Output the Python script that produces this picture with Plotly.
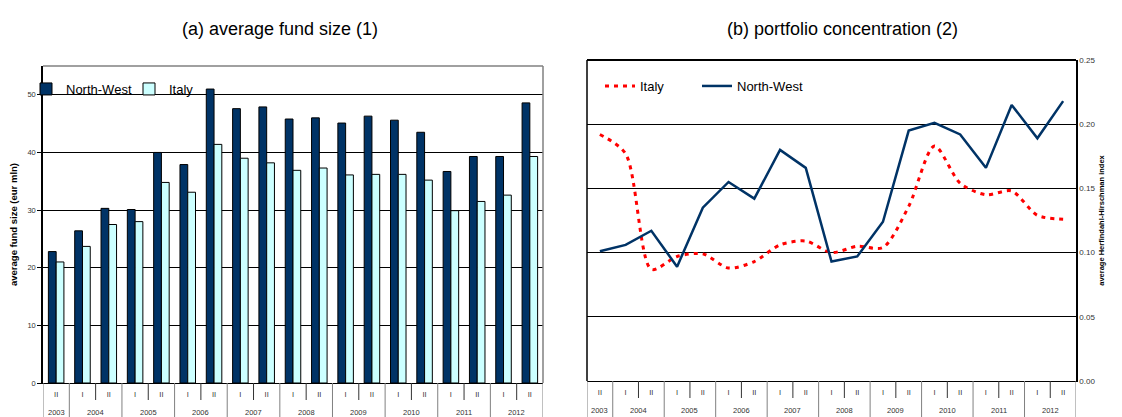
import plotly.graph_objects as go

# categories: half-years 2003 II .. 2012 II
years = ['2003'] + [str(y) for y in range(2004, 2013) for _ in (0, 1)]
halves = ['II'] + ['I', 'II'] * 9

# (a) average fund size, eur mln
size_nw = [22.8, 26.4, 30.3, 30.1, 40.0, 37.9, 51.0, 47.6, 47.9, 45.8,
           46.0, 45.1, 46.3, 45.6, 43.5, 36.7, 39.3, 39.3, 48.6]
size_it = [21.0, 23.7, 27.5, 28.0, 34.8, 33.1, 41.4, 39.0, 38.2, 36.9,
           37.3, 36.1, 36.2, 36.2, 35.2, 29.9, 31.5, 32.6, 39.3]

# (b) average Herfindahl-Hirschman index
hhi_nw = [0.101, 0.106, 0.117, 0.089, 0.135, 0.155, 0.142, 0.180, 0.166, 0.093,
          0.097, 0.124, 0.195, 0.201, 0.192, 0.166, 0.215, 0.189, 0.218]
hhi_it = [0.192, 0.177, 0.087, 0.097, 0.099, 0.088, 0.093, 0.106, 0.109, 0.100,
          0.105, 0.104, 0.136, 0.183, 0.154, 0.145, 0.148, 0.129, 0.126]

# page is drawn with the default 8px body margin, so work in page pixels
OFF = 8
W, H = 1122 - OFF, 417 - OFF
NAVY = '#003366'
CYAN = '#ccffff'


def px_x(x):
    return (x - OFF) / W


def px_y(y):
    return 1 - (y - OFF) / H


n = len(halves)
idx = list(range(n))
# boundaries between half-years: inside a year (short) and between years (long)
year_bounds = [-0.5] + [i - 0.5 for i in range(1, n) if years[i] != years[i - 1]] + [n - 0.5]
inner_bounds = [i - 0.5 for i in range(1, n) if years[i] == years[i - 1]]
year_labels = []
year_centers = []
for y in dict.fromkeys(years):
    pos = [i for i in idx if years[i] == y]
    year_labels.append(y)
    year_centers.append(sum(pos) / len(pos))

tickfont = dict(family='Liberation Sans, Arial', size=7.5, color='#333333')


def half_axis(domain, anchor):
    return dict(domain=domain, range=[-0.5, n - 0.5], anchor=anchor, showline=True,
                linecolor='black', linewidth=1, tickmode='array', tickvals=idx,
                ticktext=halves, ticks='', tickfont=tickfont, showgrid=False,
                zeroline=False, automargin=False, ticklabelstandoff=4)


def category_frame(xref, axis_y):
    # dividers under the category axis + year labels on the second row
    for b in inner_bounds:
        fig.add_shape(type='line', xref=xref, yref='paper', x0=b, x1=b,
                      y0=px_y(axis_y), y1=px_y(axis_y + 17),
                      line=dict(color='#333333', width=1))
    for b in year_bounds:
        fig.add_shape(type='line', xref=xref, yref='paper', x0=b, x1=b,
                      y0=px_y(axis_y), y1=px_y(417),
                      line=dict(color='#808080', width=1))
    for c, lab in zip(year_centers, year_labels):
        fig.add_annotation(text=lab, x=c, y=px_y(axis_y + 29), xref=xref, yref='paper',
                           showarrow=False, xanchor='center', yanchor='middle',
                           font=tickfont)


fig = go.Figure()

fig.add_trace(go.Bar(x=idx, y=size_nw, name='North-West',
                     marker=dict(color=NAVY, line=dict(color='black', width=1)),
                     xaxis='x', yaxis='y', legend='legend'))
fig.add_trace(go.Bar(x=idx, y=size_it, name='Italy',
                     marker=dict(color=CYAN, line=dict(color='black', width=1)),
                     xaxis='x', yaxis='y', legend='legend'))

fig.add_trace(go.Scatter(x=idx, y=hhi_it, name='Italy', mode='lines',
                         line=dict(color='#ff0000', width=3, dash='4px,5px',
                                   shape='spline', smoothing=0.8),
                         xaxis='x2', yaxis='y2', legend='legend2'))
fig.add_trace(go.Scatter(x=idx, y=hhi_nw, name='North-West', mode='lines',
                         line=dict(color=NAVY, width=2.5),
                         xaxis='x2', yaxis='y2', legend='legend3'))

legend_common = dict(xanchor='left', yanchor='top', orientation='h',
                     font=dict(size=13, color='black'), bgcolor='rgba(0,0,0,0)',
                     itemwidth=30)

fig.update_layout(
    width=W, height=H,
    margin=dict(l=0, r=0, t=0, b=0),
    paper_bgcolor='white', plot_bgcolor='white',
    font=dict(family='Liberation Sans, Arial', color='black'),
    barmode='group', bargap=0.41, bargroupgap=0,
    xaxis=half_axis([px_x(43), px_x(543)], 'y'),
    yaxis=dict(domain=[px_y(383), px_y(66)], anchor='x', range=[0, 55],
               tickvals=[0, 10, 20, 30, 40, 50], showline=True, linecolor='black',
               linewidth=1.5, ticks='outside', ticklen=4, tickcolor='black',
               showgrid=True, gridcolor='black', gridwidth=1, tickfont=tickfont,
               title=dict(text='<b>average fund size (eur mln)</b>',
                          font=dict(size=9.5), standoff=8),
               zeroline=False, automargin=False),
    xaxis2=half_axis([px_x(587), px_x(1076)], 'y2'),
    yaxis2=dict(domain=[px_y(381), px_y(60)], anchor='x2', side='right',
                range=[0, 0.25], tickvals=[0, 0.05, 0.10, 0.15, 0.20, 0.25],
                tickformat='.2f', showline=True, linecolor='black', linewidth=1.5,
                ticks='', showgrid=True, gridcolor='black', gridwidth=1,
                tickfont=dict(family='Liberation Sans, Arial', size=8, color='#333333'),
                title=dict(text='<b>average Herfindahl-Hirschman index</b>',
                           font=dict(size=7.5), standoff=4),
                zeroline=False, automargin=False),
    legend=dict(x=px_x(26), y=px_y(74), entrywidth=58, **legend_common),
    legend2=dict(x=px_x(600), y=px_y(71), **legend_common),
    legend3=dict(x=px_x(697), y=px_y(71), **legend_common),
    showlegend=True,
)

category_frame('x', 383)
category_frame('x2', 381)

# frame lines: top / right borders of panels
fig.add_shape(type='line', xref='x domain', yref='y domain', x0=0, x1=1, y0=1, y1=1,
              line=dict(color='#808080', width=1.5))
fig.add_shape(type='line', xref='x domain', yref='y domain', x0=1, x1=1, y0=0, y1=1,
              line=dict(color='#808080', width=1.5))
fig.add_shape(type='line', xref='x2 domain', yref='y2 domain', x0=0, x1=0, y0=0, y1=1,
              line=dict(color='black', width=1.5))
fig.add_shape(type='line', xref='x2 domain', yref='y2 domain', x0=0, x1=1, y0=1, y1=1,
              line=dict(color='black', width=2))

fig.add_annotation(text='(a) average fund size (1)', x=px_x(280), y=px_y(29),
                   xref='paper', yref='paper', showarrow=False,
                   xanchor='center', yanchor='middle',
                   font=dict(size=18, color='black'))
fig.add_annotation(text='(b) portfolio concentration (2)', x=px_x(842), y=px_y(29),
                   xref='paper', yref='paper', showarrow=False,
                   xanchor='center', yanchor='middle',
                   font=dict(size=18, color='black'))

fig.write_html("out.html")
